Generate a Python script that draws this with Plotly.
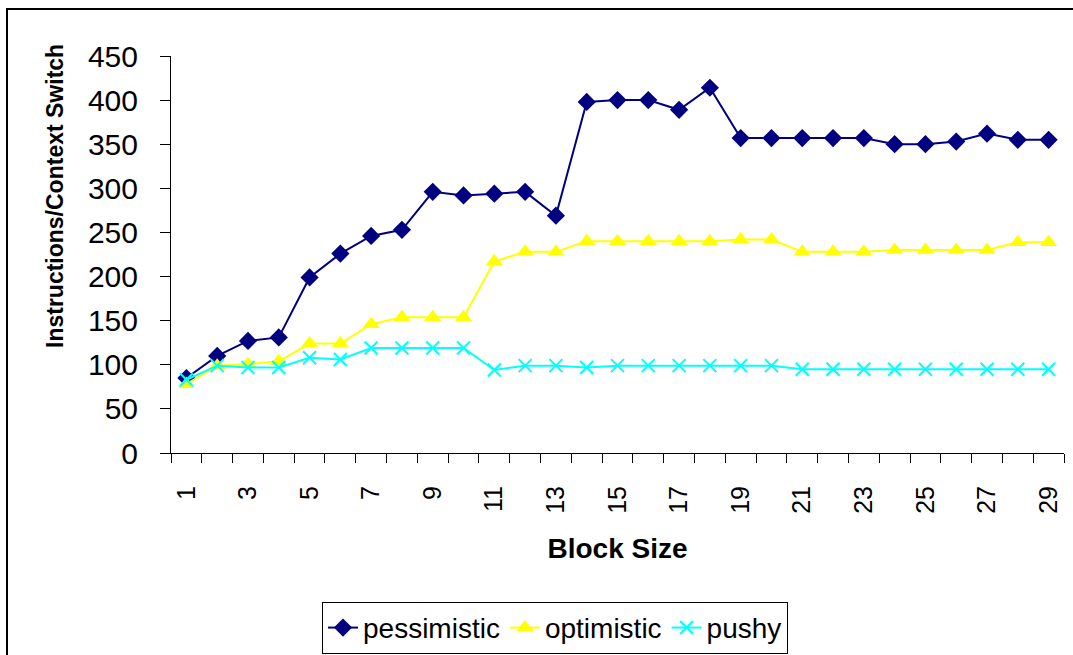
import plotly.graph_objects as go

# Block sizes on the x axis
block_size = list(range(1, 30))

# Instructions per context switch for each strategy
pessimistic = [85, 110, 127, 131, 199, 226, 246, 253, 296, 292,
               294, 296, 269, 398, 400, 400, 389, 414, 357, 357,
               357, 357, 357, 350, 350, 353, 362, 355, 355]
optimistic = [78, 99, 101, 104, 124, 124, 146, 154, 154, 154,
              217, 228, 228, 240, 240, 240, 240, 240, 242, 242,
              228, 228, 228, 230, 230, 230, 230, 239, 239]
pushy = [83, 99, 97, 97, 108, 106, 119, 119, 119, 119,
         94, 99, 99, 97, 99, 99, 99, 99, 99, 99,
         95, 95, 95, 95, 95, 95, 95, 95, 95]

x_ticks = list(range(1, 30, 2))
y_ticks = list(range(0, 451, 50))

FONT = "Liberation Sans, Arial, sans-serif"

fig = go.Figure()
fig.add_trace(go.Scatter(
    x=block_size, y=pessimistic, name="pessimistic", mode="lines+markers",
    line=dict(color="#000080", width=2),
    marker=dict(symbol="diamond", size=14, color="#000080"),
))
fig.add_trace(go.Scatter(
    x=block_size, y=optimistic, name="optimistic", mode="lines+markers",
    line=dict(color="#FFFF00", width=2),
    marker=dict(symbol="triangle-up", size=15, color="#FFFF00"),
))
fig.add_trace(go.Scatter(
    x=block_size, y=pushy, name="pushy", mode="lines+markers",
    line=dict(color="#00FFFF", width=2),
    marker=dict(symbol="x-thin", size=13, line=dict(color="#00FFFF", width=2)),
))

fig.update_layout(
    width=1073, height=655,
    margin=dict(l=171, r=9, t=56, b=202, autoexpand=False),
    paper_bgcolor="white", plot_bgcolor="white",
    font=dict(family=FONT, color="black", size=24),
    showlegend=True,
    legend=dict(
        orientation="h", x=0.43, y=-0.375, xanchor="center", yanchor="top",
        bordercolor="black", borderwidth=1, bgcolor="white",
        font=dict(size=28, family=FONT), itemwidth=30,
    ),
    xaxis=dict(
        range=[0.5, 29.5], tickmode="array", tickvals=x_ticks,
        ticktext=[str(v) for v in x_ticks], tickangle=-90,
        ticks="", ticklen=0, showgrid=False, zeroline=False,
        showline=True, linecolor="black", linewidth=1,
        tickfont=dict(size=25), ticklabelstandoff=22, automargin=False,
        minor=dict(tickmode="linear", tick0=0.5, dtick=1, ticks="outside",
                   ticklen=9, tickcolor="black", showgrid=False),
        title=dict(text="<b>Block Size</b>", font=dict(size=28), standoff=25),
    ),
    yaxis=dict(
        range=[0, 450], tickmode="array", tickvals=y_ticks,
        ticks="outside", ticklen=10, tickcolor="black",
        showgrid=False, zeroline=False,
        showline=True, linecolor="black", linewidth=1,
        tickfont=dict(size=30), ticklabelstandoff=16, automargin=False,
    ),
    annotations=[dict(
        text="<b>Instructions/Context Switch</b>", textangle=-90,
        xref="paper", yref="paper", x=(55 - 171) / 893, y=(453 - 196) / 397,
        xanchor="center", yanchor="middle", showarrow=False,
        font=dict(size=23, family=FONT, color="black"),
    )],
    shapes=[dict(
        type="rect", xref="paper", yref="paper",
        x0=(7 - 171) / 893, x1=1.2, y0=-0.8, y1=(453 - 9) / 397,
        line=dict(color="black", width=2), fillcolor="rgba(0,0,0,0)",
        layer="below",
    )],
)

fig.write_html("out.html")
